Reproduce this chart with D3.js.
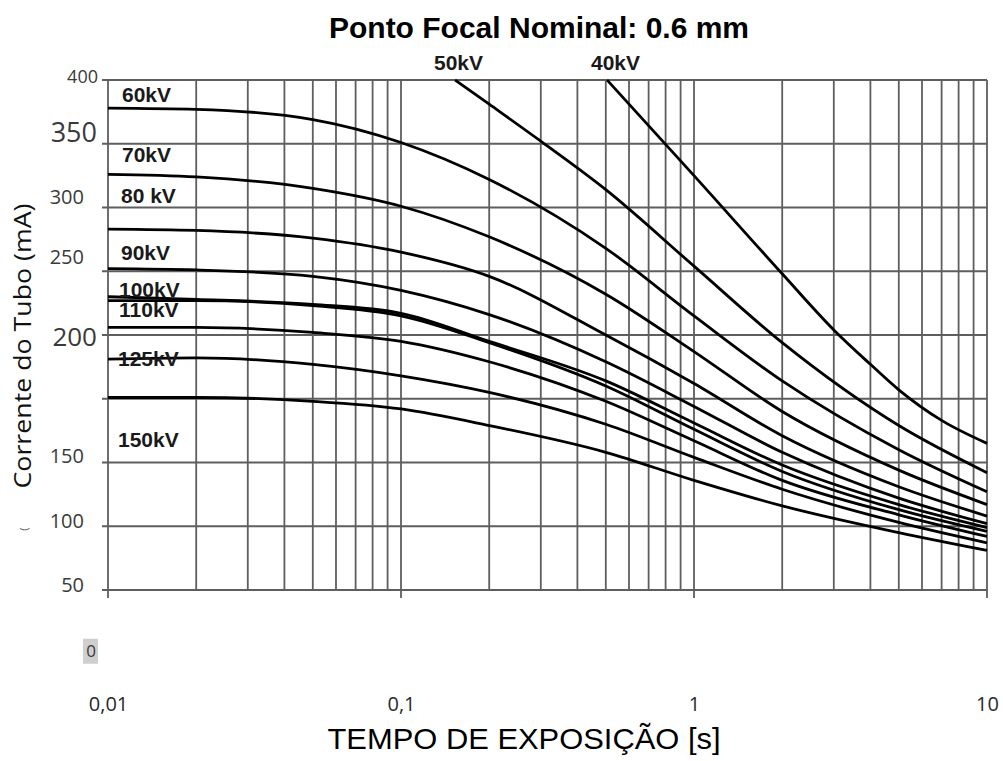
<!DOCTYPE html>
<html>
<head>
<meta charset="utf-8">
<script src="https://cdn.jsdelivr.net/npm/d3@7"></script>
<style>
  body { margin: 0; background: #fff; }
</style>
</head>
<body>
<svg id="chart" width="1003" height="761"></svg>
<script>
// exposure times (s) shared by the curves that start at the left edge
var times = [0.01, 0.02, 0.05, 0.1, 0.2, 0.5, 1, 2, 5, 10];
// tube current per kV (in the chart's own grid units)
var kv60  = [378, 377, 369, 351, 322, 268, 215, 164, 110, 77];
var kv70  = [326, 324, 315, 301, 277, 232, 187, 140, 94, 67];
var kv80  = [283, 282, 276, 265, 246, 200, 162, 121, 81, 58];
var kv90  = [252, 251, 246, 235, 216, 179, 144, 108, 72, 52];
var kv100 = [230, 228, 224, 217, 195, 164, 131, 98, 67, 49];
var kv110 = [227, 227, 223, 215, 194, 160, 126, 93, 63, 46];
var kvX   = [206, 206, 202, 195, 179, 148, 117, 86, 59, 42]; // curve with no label
var kv125 = [181, 182, 177, 168, 155, 130, 104, 79, 53, 37];
var kv150 = [151, 151, 148, 142, 129, 108, 86, 66, 45, 31];
// the two low-kV curves start at the top of the chart
var times50 = [0.153, 0.2, 0.3, 0.5, 1, 2, 5, 10];
var kv50    = [400, 381, 352, 314, 254, 194, 129, 92];
var times40 = [0.505, 1, 2, 3, 4, 5, 7, 10];
var kv40    = [400, 325, 248, 204, 177, 157, 133, 115];

var curveNames = ["40kV", "50kV", "60kV", "70kV", "80 kV", "90kV", "100kV", "110kV", "125kV", "150kV"];

var xTicks = [0.01, 0.1, 1, 10];
var xTickLabels = ["0,01", "0,1", "1", "10"];
var yTicks = [400, 350, 300, 250, 200, 150, 100, 50, 0, -50];
var yTickLabels = ["400", "350", "300", "250", "200", "", "150", "100", "50", "0"];

var title = "Ponto Focal Nominal: 0.6 mm";
var xTitle = "TEMPO DE EXPOSIÇÃO [s]";
var yTitle = "Corrente do Tubo (mA)";

var series = [
  { t: times40, v: kv40 },
  { t: times50, v: kv50 },
  { t: times, v: kv60 },
  { t: times, v: kv70 },
  { t: times, v: kv80 },
  { t: times, v: kv90 },
  { t: times, v: kv100 },
  { t: times, v: kv110 },
  { t: times, v: kvX },
  { t: times, v: kv125 },
  { t: times, v: kv150 }
];

var arial = "Liberation Sans, Arial, sans-serif";
var sans = "Open Sans, sans-serif";

var svg = d3.select("#chart");

var x = d3.scaleLog().domain([0.01, 10]).range([108, 987]);
var y = d3.scaleLinear().domain([-50, 400]).range([653.75, 80]);

var grid = svg.append("g").attr("stroke", "#5e5e5e").attr("stroke-width", 1.8);

// vertical grid, one line per log tick
grid.selectAll(".vline")
  .data(x.ticks())
  .enter()
  .append("line")
  .attr("x1", function (d) { return x(d); })
  .attr("x2", function (d) { return x(d); })
  .attr("y1", y(400))
  .attr("y2", function (d) { return xTicks.indexOf(d) >= 0 ? y(0) + 8 : y(0); });

// horizontal grid
grid.selectAll(".hline")
  .data(yTicks.filter(function (d) { return d >= 0; }))
  .enter()
  .append("line")
  .attr("x1", x(0.01) - 6)
  .attr("x2", x(10))
  .attr("y1", function (d) { return y(d); })
  .attr("y2", function (d) { return y(d); });

// curves
var line = d3.line()
  .x(function (d) { return x(d[0]); })
  .y(function (d) { return y(d[1]); })
  .curve(d3.curveMonotoneX);

svg.append("g")
  .selectAll("path")
  .data(series)
  .enter()
  .append("path")
  .attr("fill", "none")
  .attr("stroke", "#000")
  .attr("stroke-width", 2.8)
  .attr("d", function (s) {
    return line(s.t.map(function (t, i) { return [t, s.v[i]]; }));
  });

// x axis labels
var xAxis = svg.append("g")
  .attr("transform", "translate(0,694)")
  .call(d3.axisBottom(x).tickValues(xTicks).tickSize(0)
    .tickFormat(function (d, i) { return xTickLabels[i]; }));
xAxis.select(".domain").remove();
xAxis.selectAll("text")
  .style("font-family", sans)
  .style("font-size", "20px")
  .attr("fill", "#2a2a2a");

// y axis labels, the scan uses mixed sizes
var ySize = [18, 27, 20, 20, 26, 20, 20, 20, 20, 17];
var yRight = [98, 97, 84, 84, 97, 84, 84, 84, 84, 96];
var yShift = [-3, -11, -11, -14, 2, 0, -7, -5, -5, -3];
var yAxis = svg.append("g")
  .call(d3.axisLeft(y).tickValues(yTicks).tickSize(0)
    .tickFormat(function (d, i) { return yTickLabels[i]; }));
yAxis.select(".domain").remove();
yAxis.selectAll(".tick")
  .attr("transform", function (d, i) {
    return "translate(" + yRight[i] + "," + (y(d) + yShift[i]) + ")";
  });
yAxis.selectAll("text")
  .attr("x", 0)
  .attr("dy", "0.35em")
  .style("font-family", sans)
  .attr("fill", "#3a3a3a")
  .style("font-size", function (d, i) { return ySize[i] + "px"; });

// grey box behind the stray "0"
yAxis.selectAll(".tick").filter(function (d) { return d === -50; })
  .insert("rect", "text")
  .attr("x", -13)
  .attr("y", -12)
  .attr("width", 15)
  .attr("height", 25)
  .attr("fill", "#cfcfcf");

// curve labels
var labelPos = [
  [591, 70], [434, 70], [122, 102], [122, 162], [121, 203],
  [121, 260], [119, 297], [119, 317], [118, 366], [118, 447]
];
svg.append("g")
  .selectAll("text")
  .data(curveNames)
  .enter()
  .append("text")
  .attr("x", function (d, i) { return labelPos[i][0]; })
  .attr("y", function (d, i) { return labelPos[i][1]; })
  .style("font-family", arial)
  .style("font-weight", "bold")
  .style("font-size", "21px")
  .attr("fill", "#1a1a1a")
  .text(function (d) { return d; });

// titles
svg.append("text")
  .attr("x", 539)
  .attr("y", 38)
  .attr("text-anchor", "middle")
  .style("font-family", arial)
  .style("font-weight", "bold")
  .style("font-size", "30px")
  .attr("fill", "#000")
  .text(title);

svg.append("text")
  .attr("x", 524)
  .attr("y", 749)
  .attr("text-anchor", "middle")
  .attr("textLength", 393)
  .attr("lengthAdjust", "spacingAndGlyphs")
  .style("font-family", arial)
  .style("font-size", "30px")
  .attr("fill", "#000")
  .text(xTitle);

svg.append("text")
  .attr("transform", "translate(31,346) rotate(-90)")
  .attr("text-anchor", "middle")
  .attr("textLength", 285)
  .attr("lengthAdjust", "spacingAndGlyphs")
  .style("font-family", sans)
  .style("font-size", "24px")
  .attr("fill", "#111")
  .text(yTitle);

// leftover bracket mark next to "100"
svg.append("text")
  .attr("transform", "translate(28,529) rotate(-90)")
  .attr("text-anchor", "middle")
  .style("font-family", sans)
  .style("font-size", "11px")
  .attr("fill", "#555")
  .text("(");
</script>
</body>
</html>
